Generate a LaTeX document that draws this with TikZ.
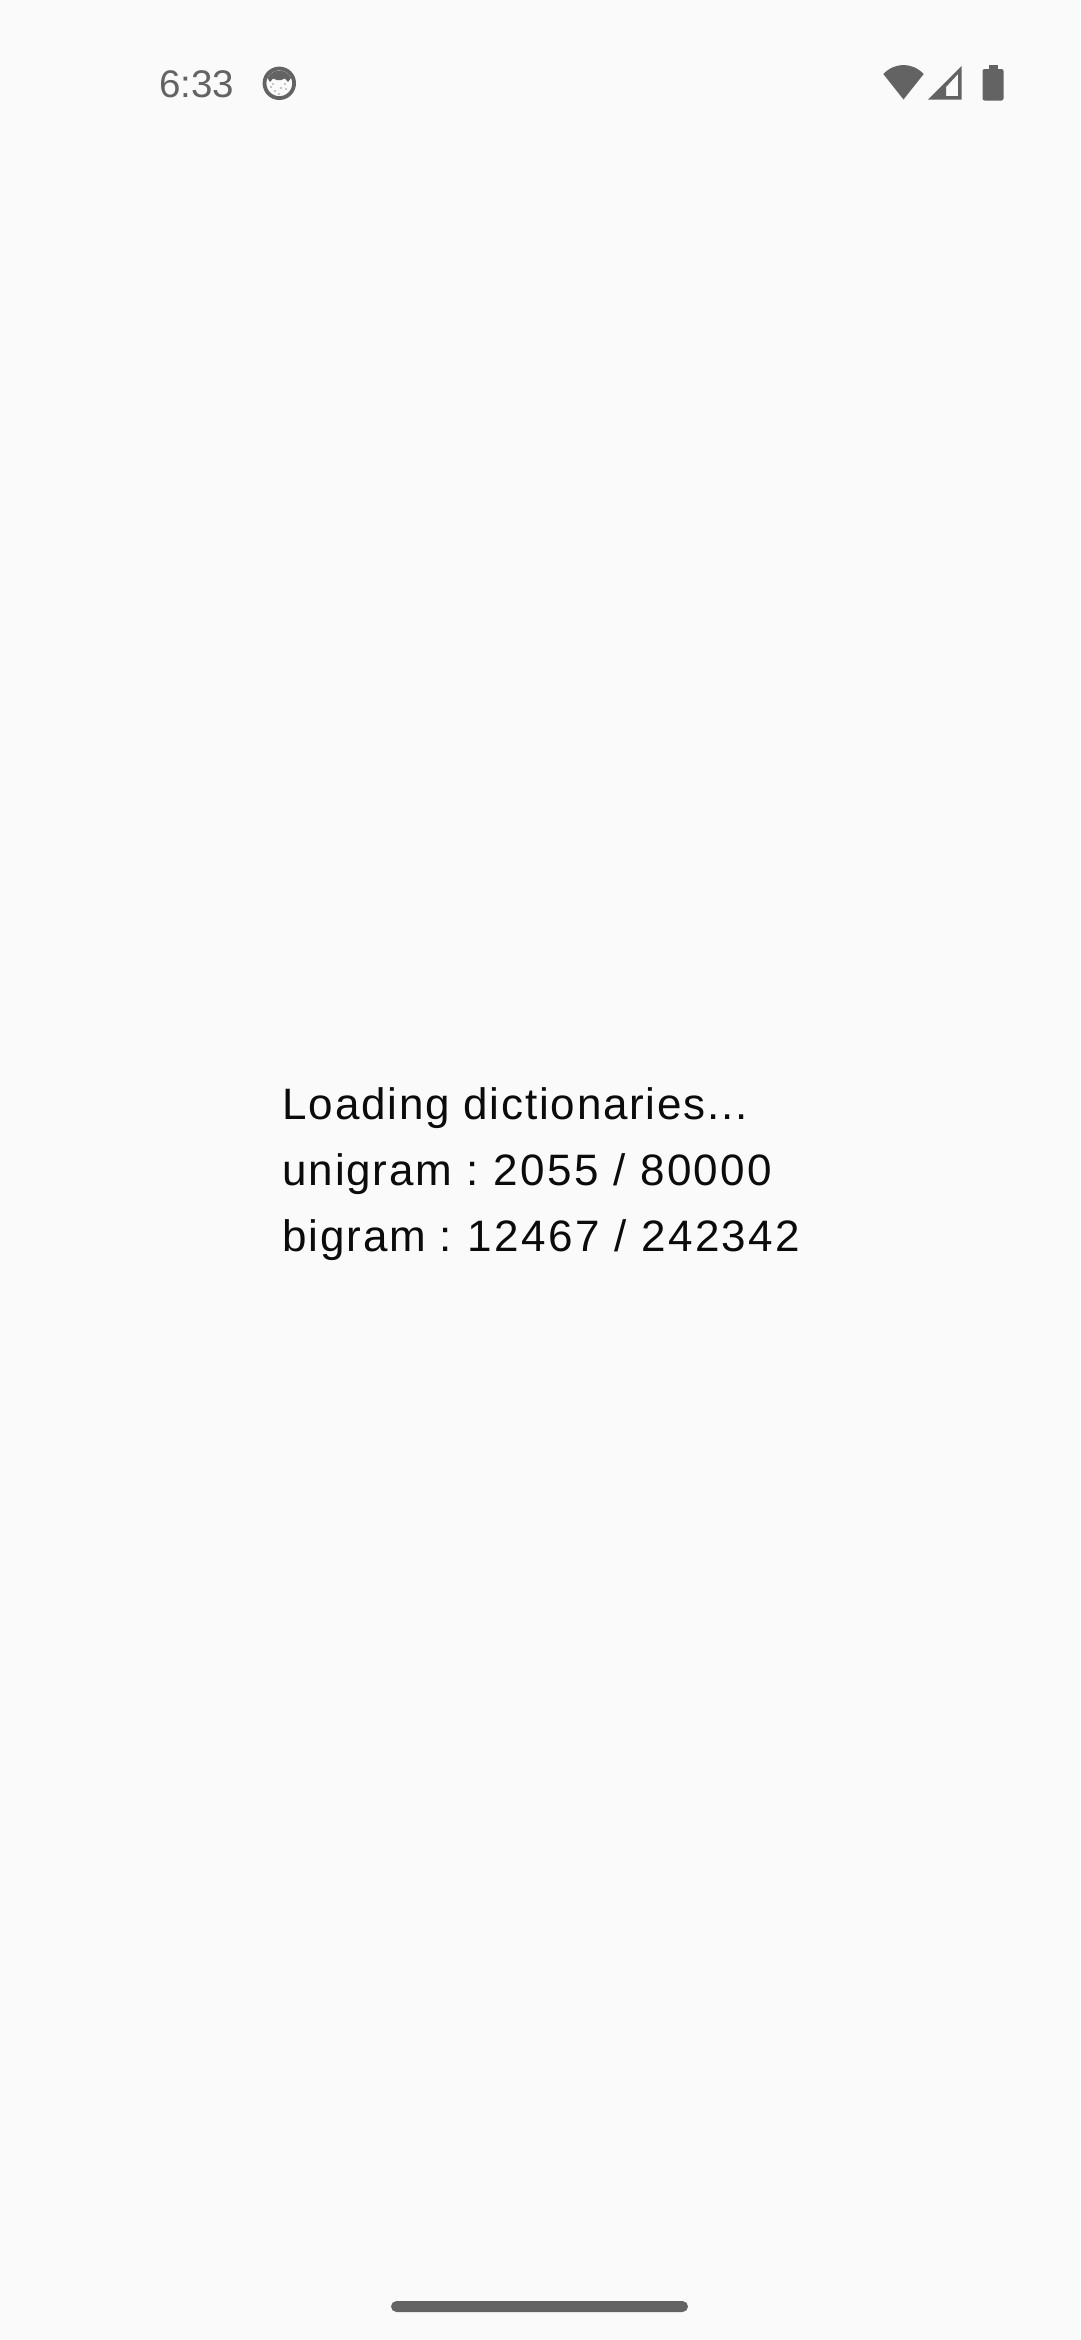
\documentclass[tikz,border=0pt]{standalone}
\usepackage{fontspec}
\setmainfont{Liberation Sans}
\newfontfamily\bodyfont[LetterSpace=4.0]{Liberation Sans}
\newfontfamily\digitfont[LetterSpace=5.5]{Liberation Sans}
\newfontfamily\clockfont{Liberation Sans}
\definecolor{screenbg}{HTML}{FAFAFA}
\definecolor{iconcol}{HTML}{636363}
\definecolor{textcol}{HTML}{0B0B0B}
\newcommand{\numbers}[1]{{\digitfont\fontsize{44}{50}\selectfont #1}}
\tikzset{
  bodyline/.style={anchor=base west,inner sep=0pt,text=textcol,font=\bodyfont\fontsize{44}{50}\selectfont},
  clock/.style={anchor=base west,inner sep=0pt,text=iconcol,font=\clockfont\fontsize{38.5}{44}\selectfont},
  icon/.style={fill=iconcol,draw=none}
}
\begin{document}
\begin{tikzpicture}[x=1pt,y=-1pt]
\useasboundingbox (0,0) rectangle (1080,2340);
\fill[screenbg] (0,0) rectangle (1080,2340);
% status bar
\node[clock] (time) at (159,97) {6:33};
% face icon
\draw[iconcol,line width=3.8pt,fill=screenbg] (279.3,83.3) circle (14.8);
\fill[iconcol] (267.5,78) arc (205:335:13) -- (291,78) -- (288,82) -- (285,78.5) -- (281,80) -- (277,80) -- (273,78.5) -- (270,82) -- cycle;
\foreach \px/\py in {271/87,275/91,281/88,286/89,279/94,273/84,285/84}
  \fill[iconcol!70] (\px,\py) circle (0.8);
% wifi
\fill[icon] (903.5,99.5) -- (883.3,74) .. controls (895,62) and (912,62) .. (923.7,74) -- cycle;
% cell
\fill[icon,even odd rule] (928,99.5) -- (961.5,66) -- (961.5,99.5) -- cycle
  (946,96) -- (958,96) -- (958,74) -- (946,87) -- cycle;
% battery
\fill[icon,rounded corners=2pt] (982.5,69) rectangle (1003.5,100.5);
\fill[icon] (988.5,65) rectangle (997.5,70);
% message
\node[bodyline] (l1) at (282.5,1119) {Loading dictionaries...};
\node[bodyline] (l2) at (282.5,1185) {unigram :\kern-3.5pt{} \numbers{2055 / 80000}};
\node[bodyline] (l3) at (282.5,1251) {bigram :\kern-3pt{} \numbers{12467 / 242342}};
% nav handle
\fill[icon,rounded corners=5.5pt] (391,2301) rectangle (688,2312);
\end{tikzpicture}
\end{document}
